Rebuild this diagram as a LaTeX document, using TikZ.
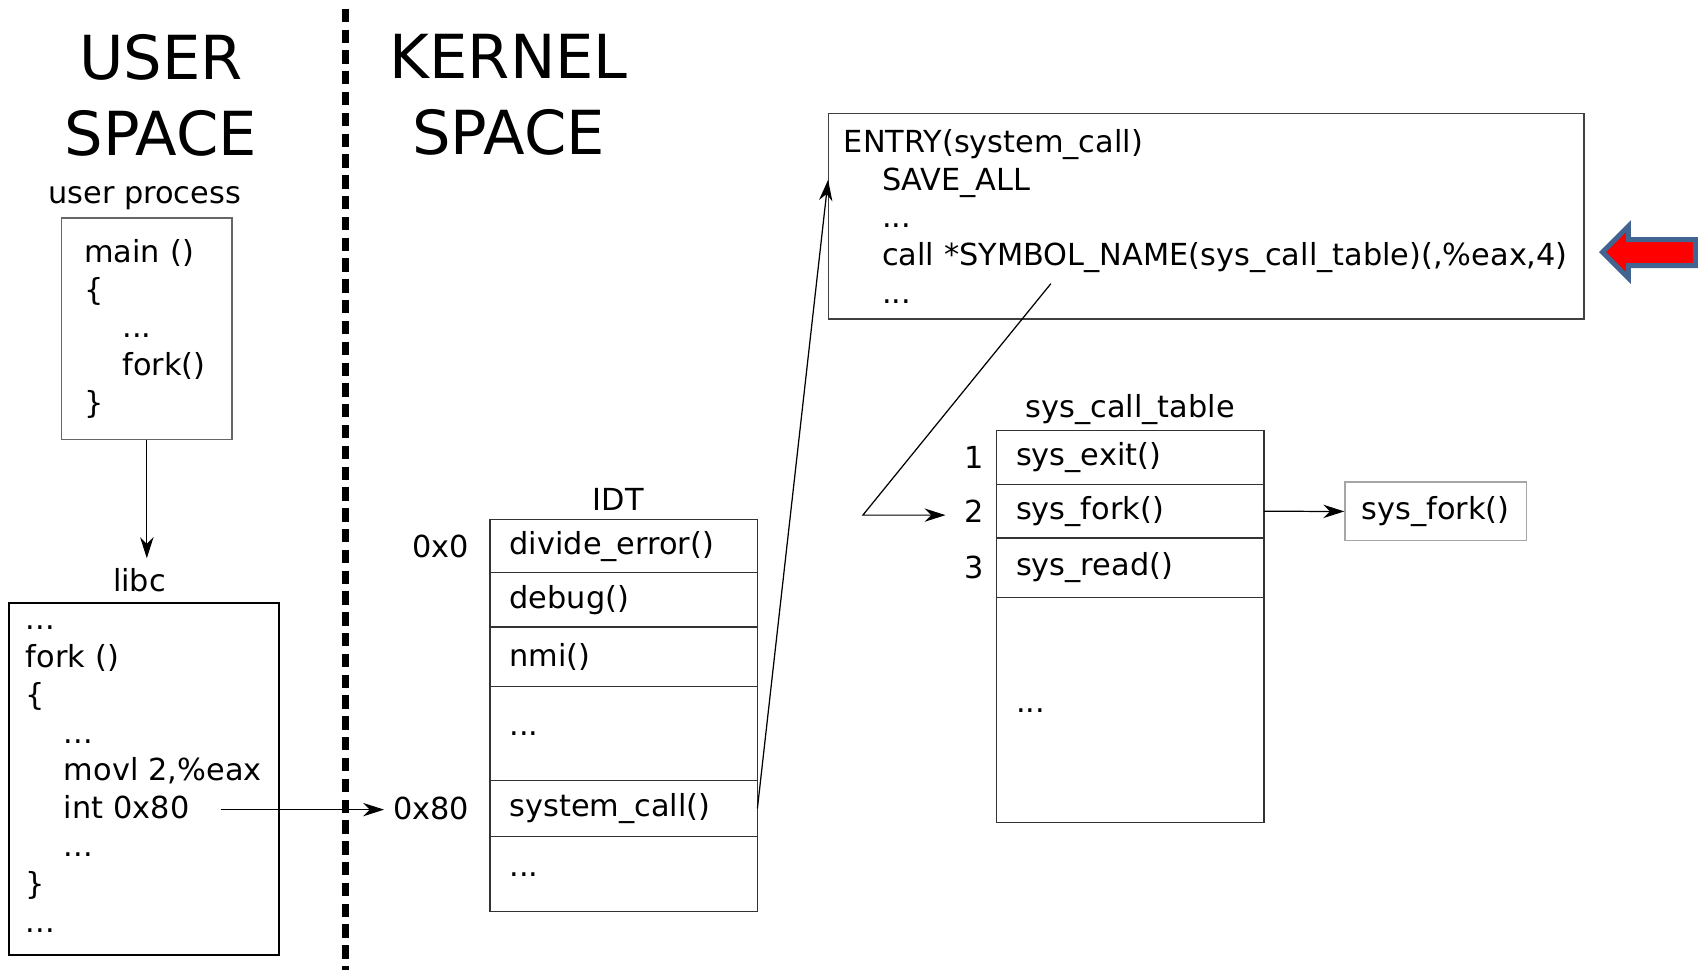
\documentclass[tikz,border=0pt]{standalone}
\usepackage{fontspec}
\setmainfont{DejaVu Sans}
\usetikzlibrary{positioning,arrows.meta,calc}

\definecolor{markfill}{RGB}{255,0,0}
\definecolor{markedge}{RGB}{65,100,145}

\tikzset{
    code/.style = {font=\fontsize{15.9pt}{19.8pt}\selectfont},
    title/.style = {font=\fontsize{31.8pt}{39.7pt}\selectfont, align=center, inner sep=0pt},
    lbl/.style = {code, inner sep=0pt},
    box/.style = {code, draw=black!70, line width=0.7pt, align=left, anchor=north west, inner ysep=0pt},
    cell/.style = {code, draw=black!80, line width=0.7pt, outer sep=0pt, align=left,
                   text width=4.2cm, inner xsep=0.36cm, inner ysep=0pt, minimum width=4.92cm},
    link/.style = {->, line width=0.65pt},
    divider/.style = {line width=3.4pt, dash pattern=on 7pt off 3.9pt}
}

\begin{document}
\begin{tikzpicture}[x=0.02cm, y=-0.02cm, >={Stealth[length=11pt, width=7pt, inset=3.5pt]}]
    \useasboundingbox (0,0) rectangle (1568,893);

    % headings and the border between the two spaces
    \node[title] (usertitle)   at (148,87.5) {USER\\SPACE};
    \node[title] (kerneltitle) at (468,87.5) {KERNEL\\SPACE};
    \coordinate (divtop) at (318,8);
    \coordinate (divbot) at (318,893);
    \draw[divider] (divtop) -- (divbot);

    % user space
    \node[box, draw=black!60, minimum width=3.14cm, minimum height=4.08cm, inner xsep=0.42cm, text width=2.3cm]
        (userbox) at (56,200) {main ()\\\{\\\hspace*{0.7cm}...\\\hspace*{0.7cm}fork()\\\}};
    \node[lbl, above=0.13cm of userbox, xshift=-0.04cm] (userlbl) {user process};

    \node[box, draw=black, line width=1pt, minimum width=4.98cm, minimum height=6.48cm, inner xsep=0.32cm, text width=4.34cm]
        (libcbox) at (7,554) {...\\fork ()\\\{\\\hspace*{0.7cm}...\\\hspace*{0.7cm}movl 2,\%eax\\\hspace*{0.7cm}int 0x80\\\hspace*{0.7cm}...\\\}\\...};
    \node[lbl, above=0.18cm of libcbox, xshift=-0.08cm] (libclbl) {libc};

    % IDT
    \node[cell, minimum height=0.98cm, anchor=north west] (idt1) at (451,478) {divide\_error()};
    \node[cell, minimum height=1.0cm,  below=0pt of idt1] (idt2) {debug()};
    \node[cell, minimum height=1.1cm,  below=0pt of idt2] (idt3) {nmi()};
    \node[cell, minimum height=1.72cm, below=0pt of idt3] (idt4) {...};
    \node[cell, minimum height=1.04cm, below=0pt of idt4] (idt5) {system\_call()};
    \node[cell, minimum height=1.38cm, below=0pt of idt5] (idt6) {...};
    \node[lbl, above=0.16cm of idt1, xshift=-0.1cm] (idtlbl) {IDT};
    \node[lbl, left=0.38cm of idt1] (addr0)  {0x0};
    \node[lbl, left=0.38cm of idt5] (addr80) {0x80};

    % system_call entry
    \node[box, draw=black!75, minimum width=13.9cm, minimum height=3.78cm, inner xsep=0.28cm, text width=13.34cm]
        (entry) at (762,104) {ENTRY(system\_call)\\\hspace*{0.7cm}SAVE\_ALL\\\hspace*{0.7cm}...\\\hspace*{0.7cm}call *SYMBOL\_NAME(sys\_call\_table)(,\%eax,4)\\\hspace*{0.7cm}...};

    % sys_call_table
    \node[cell, minimum height=1.0cm, anchor=north west] (sc1) at (917,396) {sys\_exit()};
    \node[cell, minimum height=0.98cm, below=0pt of sc1] (sc2) {sys\_fork()};
    \node[cell, minimum height=1.1cm,  below=0pt of sc2] (sc3) {sys\_read()};
    \node[cell, minimum height=4.14cm, below=0pt of sc3] (sc4) {...};
    \node[lbl, above=0.1cm of sc1] (sctlbl) {sys\_call\_table};
    \node[lbl, left=0.22cm of sc1] (num1) {1};
    \node[lbl, left=0.22cm of sc2] (num2) {2};
    \node[lbl, left=0.22cm of sc3] (num3) {3};

    \node[code, draw=black!35, line width=0.7pt, minimum width=3.34cm, minimum height=1.08cm, anchor=north west]
        (forkbox) at (1237,443) {sys\_fork()};

    % connectors
    \coordinate (intsrc) at (203,745);
    \coordinate (callsrc) at (967,261);
    \coordinate (bend) at (794,474);
    \draw[link, shorten >=0.18cm] (userbox.south) -- (userbox.south |- libclbl.north);
    \draw[link, shorten >=0.16cm] (intsrc) -- (intsrc -| addr80.west);
    \draw[link] (idt5.east) -- ($(entry.north west)!0.323!(entry.south west)$);
    \draw[link, shorten >=0.35cm] (callsrc) -- (bend) -- (bend -| num2.west);
    \draw[link] (sc2.east) -- (forkbox.west);

    % red marker
    \draw[fill=markfill, draw=markedge, line width=2.6pt, line join=miter]
        (1560,220.5) -- (1498.5,220.5) -- (1498.5,208) -- (1474.5,232) -- (1498.5,256) -- (1498.5,244.5) -- (1560,244.5) -- cycle;
\end{tikzpicture}
\end{document}
